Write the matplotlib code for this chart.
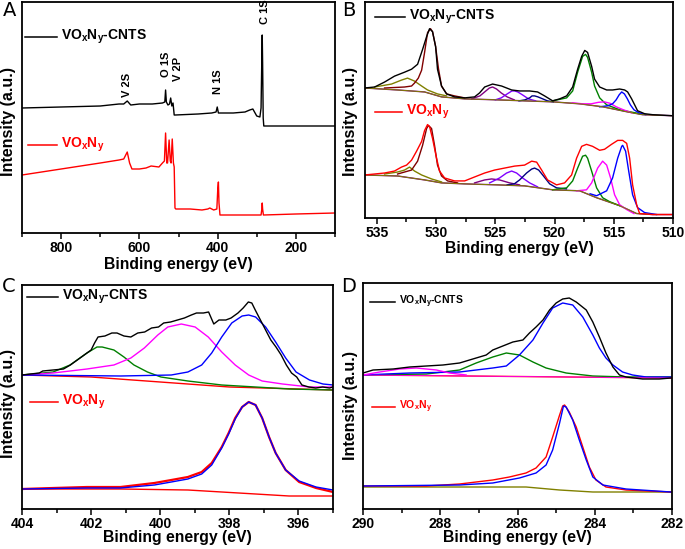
import matplotlib
matplotlib.use('Agg')
import matplotlib.pyplot as plt
from matplotlib.lines import Line2D
from matplotlib.ticker import MultipleLocator

plt.rcParams['font.family'] = 'Liberation Sans'
plt.rcParams['font.weight'] = 'bold'
plt.rcParams['mathtext.fontset'] = 'custom'
plt.rcParams['mathtext.rm'] = 'Liberation Sans:bold'
plt.rcParams['mathtext.it'] = 'Liberation Sans:bold'
plt.rcParams['mathtext.bf'] = 'Liberation Sans:bold'

# ---------------- data ----------------
# A: survey spectra
a_cnt_e = [900, 800, 700, 652, 640, 631, 622, 600, 567, 541, 535, 533, 531, 527, 523, 520, 517, 514, 511, 508,
           450, 415, 404, 401, 398, 394, 360, 330, 318, 310, 300, 292, 289, 287, 286, 285, 283.5, 282, 278, 200, 100]
a_cnt_y = [125, 126, 127, 129, 129, 132, 128, 129, 129, 130, 131, 143, 131, 128, 129, 135, 127, 130, 118, 118,
           119, 120, 121, 126, 120, 120, 120, 121, 123, 124, 117, 116, 125, 175, 198, 170, 115, 107, 107, 107, 107]
a_vo_e = [900, 800, 700, 652, 640, 631, 625, 619, 600, 583, 570, 550, 541, 536, 533, 530, 528, 524, 521, 519,
          516, 513, 511, 509, 507, 470, 440, 425, 420, 410, 402, 399.5, 398, 396.5, 394, 350, 300, 289, 287,
          286, 285, 283, 200, 100]
a_vo_y = [58, 64, 70, 73, 74, 81, 70, 64, 64, 65, 67, 66, 70, 72, 100, 70, 70, 93, 72, 70,
          94, 70, 66, 25, 24, 24, 23, 24, 25, 23, 24, 45, 51, 30, 18, 18, 18, 18, 24,
          30, 24, 18, 19, 20]
a_peaks = ['V 2S', 'O 1S', 'V 2P', 'N 1S', 'C 1S']

# B: V 2p / O 1s region
b_cnt_e = [536.04, 535.19, 534.35, 533.51, 532.66, 532.07, 531.56, 531.14, 530.80, 530.55, 530.30, 530.04, 529.88,
           529.54, 529.11, 528.44, 527.59, 526.75, 526.33, 525.90, 525.23, 524.47, 523.62, 522.95, 522.10, 521.43,
           520.84, 520.16, 519.57, 518.98, 518.47, 518.05, 517.71, 517.45, 517.21, 516.87, 516.62, 516.19, 515.60,
           515.10, 514.51, 514.08, 513.83, 513.49, 513.24, 512.99, 512.40, 511.72, 510.12]
b_cnt_y = [131, 132, 137, 143, 147, 150, 155, 170, 183, 191, 188, 173, 150,
           133, 125, 122, 121, 122, 126, 132, 135, 133, 129, 128, 128, 127,
           123, 118, 120, 123, 132, 150, 163, 169, 167, 153, 140, 132, 129,
           129, 130, 129, 127, 120, 114, 108, 105, 104, 103]
b_cnt_bg_e = [536.04, 533.25, 530.97, 529.54, 527.59, 524.81, 522.53, 520.16, 517.88, 515.94, 513.91, 512.57, 510.12]
b_cnt_bg_y = [131, 129, 127, 122, 120, 119, 118, 117, 115, 112, 107, 104, 103]
b_cnt_o1_e = [534.35, 532.66, 532.07, 531.82, 531.5, 531.22, 530.97, 530.72, 530.47, 530.30, 530.04, 529.79,
              529.54, 529.11, 528.44, 527.59]
b_cnt_o1_y = [131, 132, 133, 136, 141, 149, 167, 187, 191, 188, 173, 150, 133, 125, 123, 121]
b_cnt_o2_e = [535.19, 533.76, 532.92, 532.41, 531.82, 531.22, 530.72, 529.88, 529.11]
b_cnt_o2_y = [132, 135, 139, 141, 138, 133, 129, 125, 123]
b_cnt_p1_e = [527.0, 526.3, 525.9, 525.5, 525.23, 524.9, 524.5, 524.0, 523.4]
b_cnt_p1_y = [120, 123, 127, 131, 132, 130, 126, 122, 119]
b_cnt_p2_e = [525.0, 524.5, 524.0, 523.6, 523.37, 523.1, 522.7, 522.2, 521.6]
b_cnt_p2_y = [119, 121, 125, 128, 128, 127, 124, 120, 118]
b_cnt_p3_e = [523.0, 522.5, 522.1, 521.9, 521.68, 521.4, 521.0, 520.6, 520.1]
b_cnt_p3_y = [118, 119, 121, 123, 123, 122, 120, 118, 117]
b_cnt_g_e = [520.16, 518.98, 518.47, 518.05, 517.63, 517.38, 517.21, 516.87, 516.62, 516.19, 515.60, 514.51, 512.82]
b_cnt_g_y = [118, 121, 128, 147, 163, 165, 162, 147, 133, 121, 114, 109, 105]
b_cnt_m_e = [518.5, 517.6, 516.9, 516.3, 515.8, 515.3, 514.8, 514.2, 513.5]
b_cnt_m_y = [116, 115, 115, 116.5, 117, 115.5, 112, 109, 106]
b_cnt_b_e = [516.2, 515.5, 515.1, 514.8, 514.55, 514.33, 514.1, 513.85, 513.6, 513.3, 512.9, 512.3]
b_cnt_b_y = [112, 113, 115, 119, 124, 127, 125, 120, 114, 109, 106, 104]

b_vo_e = [536.04, 535.19, 534.35, 533.51, 532.92, 532.49, 532.07, 531.65, 531.22, 530.97, 530.72, 530.55, 530.30,
          529.96, 529.71, 529.28, 528.44, 527.59, 526.75, 525.90, 525.06, 524.22, 523.37, 522.53, 521.93, 521.51,
          521.09, 520.59, 519.83, 519.15, 518.56, 518.14, 517.71, 517.30, 516.79, 516.19, 515.78, 515.19, 514.67,
          514.25, 513.91, 513.66, 513.41, 513.07, 512.82, 511.72, 510.12]
b_vo_y = [43, 44, 45, 47, 51, 53, 58, 67, 77, 88, 94, 92, 80,
          60, 47, 40, 37, 37, 41, 45, 48, 50, 52, 53, 57, 56,
          48, 38, 33, 35, 43, 60, 72, 74, 72, 68, 69, 74, 78,
          78, 75, 60, 33, 13, 4, 3, 3]
b_vo_bg_e = [536.04, 533.25, 530.97, 529.54, 527.59, 524.81, 522.53, 520.16, 517.88, 516.45, 514.51, 513.07, 511.72,
             510.12]
b_vo_bg_y = [43, 42, 38, 35, 34, 33, 32, 28, 27, 20, 12, 4, 3, 3]
b_vo_o1_e = [533.25, 532.07, 531.56, 531.14, 530.80, 530.64, 530.38, 530.13, 529.88, 529.54, 529.03, 528.19]
b_vo_o1_y = [44, 48, 57, 73, 90, 93, 90, 73, 53, 42, 37, 35]
b_vo_o2_e = [534.35, 533.25, 532.66, 532.24, 531.82, 531.22, 530.38, 529.54]
b_vo_o2_y = [44, 46, 48, 51, 47, 43, 39, 36]
b_vo_p1_e = [526.75, 525.90, 525.31, 524.64, 523.79, 522.95]
b_vo_p1_y = [35, 38, 39, 38, 35, 33]
b_vo_p2_e = [525.48, 524.64, 524.05, 523.62, 523.20, 522.70, 522.10, 521.43]
b_vo_p2_y = [35, 40, 45, 47, 45, 40, 35, 31]
b_vo_p3_e = [524.0, 523.4, 522.95, 522.36, 521.93, 521.68, 521.34, 521.00, 520.41, 519.83, 519.0]
b_vo_p3_y = [33, 34, 38, 45, 49, 50, 48, 43, 34, 30, 29]
b_vo_g_e = [520.16, 518.98, 518.47, 518.05, 517.63, 517.38, 517.21, 516.87, 516.45, 515.94, 515.35, 514.51]
b_vo_g_y = [28, 30, 37, 50, 62, 63, 60, 47, 30, 20, 16, 12]
b_vo_m_e = [518.14, 517.30, 516.87, 516.36, 515.94, 515.60, 515.27, 514.93, 514.51, 513.91, 513.3]
b_vo_m_y = [27, 28, 35, 50, 57, 53, 40, 23, 13, 8, 4]
b_vo_b_e = [517.0, 516.45, 515.60, 515.10, 514.67, 514.33, 514.25, 514.00, 513.74, 513.41, 512.99, 512.40, 511.39]
b_vo_b_y = [24, 22, 27, 40, 60, 72, 73, 67, 47, 23, 10, 5, 3]

# C: N 1s region
c_cnt_e = [404.0, 403.5, 403.4, 403.1, 402.8, 402.6, 402.4, 402.2, 402.0, 401.9, 401.8, 401.6, 401.4, 401.25,
           401.05, 400.85, 400.65, 400.45, 400.25, 400.05, 399.9, 399.7, 399.5, 399.3, 399.1, 398.95, 398.75,
           398.6, 398.45, 398.3, 398.1, 397.95, 397.75, 397.6, 397.45, 397.35, 397.25, 397.1, 396.95, 396.8,
           396.65, 396.5, 396.35, 396.2, 396.05, 395.9, 395.7, 395.5, 395.3, 395.1, 395.0]
c_cnt_y = [134, 136, 138, 139, 140, 144, 149, 154, 159, 166, 172, 173, 176, 176,
           173, 172, 176, 177, 181, 182, 186, 187, 189, 191, 194, 196, 196,
           197, 185, 189, 189, 191, 196, 201, 207, 206, 199, 189, 179, 169,
           162, 154, 144, 136, 132, 124, 122, 121, 122, 121, 122]
c_cnt_bg_e = [404, 402, 400, 398, 396, 395]
c_cnt_bg_y = [134, 132, 127, 122, 120, 119]
c_cnt_g_e = [404.0, 403.1, 402.61, 402.12, 401.83, 401.68, 401.34, 401.05, 400.76, 400.37, 399.98, 399.2, 398.22,
             397.24, 396.27, 395.0]
c_cnt_g_y = [134, 137, 144, 156, 162, 162, 159, 152, 144, 137, 132, 128, 124, 122, 120, 119]
c_cnt_m_e = [404.0, 403.1, 402.12, 401.34, 400.85, 400.46, 400.07, 399.78, 399.39, 398.99, 398.61, 398.22, 397.83,
             397.44, 397.05, 396.46, 395.68, 395.0]
c_cnt_m_y = [134, 136, 140, 144, 151, 161, 174, 182, 185, 182, 172, 157, 144, 134, 128, 125, 122, 122]
c_cnt_b_e = [404.0, 401.15, 399.68, 399.2, 398.8, 398.51, 398.22, 397.93, 397.63, 397.44, 397.24, 396.95, 396.66,
             396.37, 396.07, 395.68, 395.29, 395.0]
c_cnt_b_y = [134, 133, 134, 137, 144, 156, 172, 186, 193, 194, 192, 182, 167, 151, 137, 129, 125, 124]

c_vo_e = [404.0, 403.1, 402.12, 401.15, 400.17, 399.68, 399.2, 398.8, 398.51, 398.22, 398.02, 397.83, 397.63,
          397.44, 397.24, 397.05, 396.85, 396.66, 396.37, 395.98, 395.49, 395.0]
c_vo_y = [20, 21, 22, 22, 26, 29, 32, 37, 46, 62, 76, 91, 102, 107, 104, 91, 72, 56, 39, 27, 21, 17]
c_vo_fit_y = [20, 20.5, 21, 21, 24, 27, 30, 35, 44, 61, 75, 90, 102, 107, 104, 91, 72, 56, 39, 28, 22, 19]
c_vo_bg_e = [404, 401.15, 399.2, 398.22, 397.24, 396.27, 395.0]
c_vo_bg_y = [20, 20, 19, 17, 15, 13, 13]

# D: C 1s region
d_cnt_e = [290.0, 289.74, 289.22, 288.79, 288.36, 287.93, 287.5, 287.07, 286.81, 286.64, 286.38, 286.12, 285.86,
           285.69, 285.52, 285.34, 285.17, 285.0, 284.83, 284.66, 284.48, 284.22, 284.05, 283.88, 283.71, 283.53,
           283.36, 283.19, 282.76, 282.33, 282.03]
d_cnt_y = [136, 139, 140, 142, 143, 144, 146, 151, 154, 159, 163, 167, 169,
           176, 182, 189, 199, 206, 210, 211, 207, 199, 187, 172, 156, 142,
           134, 132, 130, 130, 131]
d_cnt_bg_e = [290.0, 282.0]
d_cnt_bg_y = [134, 131]
d_cnt_g_e = [290.0, 288.36, 287.5, 287.07, 286.64, 286.29, 285.95, 285.6, 285.26, 284.74, 284.05, 283.19, 282.03]
d_cnt_g_y = [134, 135, 139, 146, 152, 156, 154, 147, 141, 136, 133, 132, 132]
d_cnt_m_e = [290.0, 289.57, 289.05, 288.62, 288.1, 287.76, 287.33]
d_cnt_m_y = [134, 137, 140, 141, 139, 136, 134]
d_cnt_b_e = [290.0, 288.79, 287.5, 286.64, 286.29, 285.95, 285.6, 285.34, 285.09, 284.83, 284.57, 284.31, 284.05,
             283.88, 283.71, 283.53, 283.28, 283.02, 282.67, 282.03]
d_cnt_b_y = [134, 136, 137, 141, 143, 154, 169, 186, 201, 206, 204, 192, 174, 161, 151, 144, 137, 134, 132, 132]

d_vo_e = [290.0, 288.36, 287.5, 286.64, 286.21, 285.78, 285.52, 285.26, 285.09, 284.91, 284.83, 284.78, 284.66,
          284.48, 284.31, 284.14, 283.97, 283.71, 283.19, 282.03]
d_vo_y = [23, 23, 25, 29, 32, 36, 41, 52, 72, 94, 103, 104, 97, 82, 62, 42, 29, 22, 19, 17]
d_vo_fit_e = [290.0, 287.5, 286.64, 285.95, 285.52, 285.26, 285.09, 284.91, 284.81, 284.74, 284.57, 284.40, 284.22,
              284.05, 283.79, 283.19, 282.03]
d_vo_fit_y = [23, 24, 26, 31, 36, 44, 59, 86, 103, 102, 89, 69, 49, 32, 24, 20, 17]
d_vo_bg_e = [290.0, 287.5, 285.78, 284.91, 284.05, 282.03]
d_vo_bg_y = [22, 22, 22, 19, 17, 17]

# ---------------- colours ----------------
BLACK = '#000000'
RED = '#ff0000'
WINE = '#800000'
OLIVE = '#808000'
PURPLE = '#800080'
VIOLET = '#8000ff'
NAVY = '#000080'
GREEN = '#008000'
MAGENTA = '#ff00ff'
BLUE = '#0000ff'

W, H = 685, 549
fig = plt.figure(figsize=(W / 100, H / 100), dpi=100)


def box(l, t, r, b):
    return [l / W, 1 - b / H, (r - l) / W, (b - t) / H]


def style(ax, xlim, ylim, major, minor, pad=1):
    ax.set_xlim(*xlim)
    ax.set_ylim(*ylim)
    ax.set_yticks([])
    ax.xaxis.set_major_locator(MultipleLocator(major))
    ax.xaxis.set_minor_locator(MultipleLocator(minor))
    ax.tick_params(axis='x', which='major', direction='out', length=4, width=1.1, labelsize=10, pad=2)
    ax.tick_params(axis='x', which='minor', direction='out', length=3, width=1.1)
    for s in ax.spines.values():
        s.set_linewidth(1.3)
    ax.set_xlabel('Binding energy (eV)', fontsize=11.3, fontweight='bold', labelpad=pad)


def legend_entry(x0, x1, y, text, color, size=10):
    fig.add_artist(Line2D([x0 / W, x1 / W], [1 - y / H, 1 - y / H], color=color, lw=1.1))
    fig.text((x1 + 4) / W, 1 - y / H, text, color=color, fontsize=size, fontweight='bold', va='center', ha='left')


def side_text(x, y, text, size=11.5):
    fig.text(x / W, 1 - y / H, text, rotation=90, fontsize=size, fontweight='bold', va='center', ha='center')


def letter(x, y, text):
    fig.text(x / W, 1 - y / H, text, fontsize=14, fontweight='normal', family='DejaVu Sans',
             va='center', ha='center')


CNT = r'VO$_x$N$_y$-CNTS'
VO = r'VO$_x$N$_y$'

# ---- A ----
axA = fig.add_axes(box(22, 1.5, 335, 233))
axA.plot(a_cnt_e, a_cnt_y, color=BLACK, lw=1.0)
axA.plot(a_vo_e, a_vo_y, color=RED, lw=1.0)
style(axA, (900, 100), (0, 231.5), 200, 100)
for txt, x, yb in zip(a_peaks, [127, 166, 178, 218, 265], [97, 77, 81, 94, 24]):
    fig.text(x / W, 1 - yb / H, txt, rotation=90, fontsize=8, fontweight='bold', va='bottom', ha='center')
legend_entry(25, 57, 37, CNT, BLACK)
legend_entry(28, 57, 145, VO, RED)

# ---- B ----
axB = fig.add_axes(box(365, 1.5, 673, 217.5))
for e, y, c in [(b_cnt_bg_e, b_cnt_bg_y, PURPLE), (b_cnt_o2_e, b_cnt_o2_y, OLIVE), (b_cnt_o1_e, b_cnt_o1_y, WINE),
                (b_cnt_p1_e, b_cnt_p1_y, PURPLE), (b_cnt_p2_e, b_cnt_p2_y, VIOLET), (b_cnt_p3_e, b_cnt_p3_y, NAVY),
                (b_cnt_g_e, b_cnt_g_y, GREEN), (b_cnt_m_e, b_cnt_m_y, MAGENTA), (b_cnt_b_e, b_cnt_b_y, BLUE),
                (b_vo_bg_e, b_vo_bg_y, PURPLE), (b_vo_o2_e, b_vo_o2_y, OLIVE), (b_vo_o1_e, b_vo_o1_y, WINE),
                (b_vo_p1_e, b_vo_p1_y, PURPLE), (b_vo_p2_e, b_vo_p2_y, VIOLET), (b_vo_p3_e, b_vo_p3_y, NAVY),
                (b_vo_g_e, b_vo_g_y, GREEN), (b_vo_m_e, b_vo_m_y, MAGENTA), (b_vo_b_e, b_vo_b_y, BLUE)]:
    axB.plot(e, y, color=c, lw=1.0)
axB.plot(b_cnt_bg_e, b_cnt_bg_y, color=OLIVE, lw=0.7)
axB.plot(b_vo_bg_e, b_vo_bg_y, color=OLIVE, lw=0.7)
axB.plot(b_cnt_e, b_cnt_y, color=BLACK, lw=1.0)
axB.plot(b_vo_e, b_vo_y, color=RED, lw=1.0)
style(axB, (536, 510), (0, 218.5), 5, 2.5)
legend_entry(375, 405, 17, CNT, BLACK)
legend_entry(375, 402, 112, VO, RED)

# ---- C ----
axC = fig.add_axes(box(22, 285, 333, 509))
axC.plot(c_cnt_bg_e, c_cnt_bg_y, color=RED, lw=1.0)
axC.plot(c_cnt_g_e, c_cnt_g_y, color=GREEN, lw=1.0)
axC.plot(c_cnt_m_e, c_cnt_m_y, color=MAGENTA, lw=1.0)
axC.plot(c_cnt_b_e, c_cnt_b_y, color=BLUE, lw=1.0)
axC.plot(c_cnt_e, c_cnt_y, color=BLACK, lw=1.0)
axC.plot(c_vo_bg_e, c_vo_bg_y, color=RED, lw=1.0)
axC.plot(c_vo_e, c_vo_y, color=RED, lw=1.6)
axC.plot(c_vo_e, c_vo_fit_y, color=BLUE, lw=1.0)
style(axC, (404, 395), (0, 224), 2, 1, pad=-1)
legend_entry(27, 58, 297, CNT, BLACK)
legend_entry(30, 58, 402, VO, RED)

# ---- D ----
axD = fig.add_axes(box(363, 283, 672, 509))
axD.plot(d_cnt_bg_e, d_cnt_bg_y, color=RED, lw=1.0)
axD.plot(d_cnt_g_e, d_cnt_g_y, color=GREEN, lw=1.0)
axD.plot(d_cnt_b_e, d_cnt_b_y, color=BLUE, lw=1.0)
axD.plot(d_cnt_m_e, d_cnt_m_y, color=MAGENTA, lw=1.0)
axD.plot(d_cnt_bg_e, d_cnt_bg_y, color=MAGENTA, lw=0.6)
axD.plot(d_cnt_e, d_cnt_y, color=BLACK, lw=1.0)
axD.plot(d_vo_bg_e, d_vo_bg_y, color=OLIVE, lw=1.0)
axD.plot(d_vo_e, d_vo_y, color=RED, lw=1.0)
axD.plot(d_vo_fit_e, d_vo_fit_y, color=BLUE, lw=1.0)
style(axD, (290, 282), (0, 226), 2, 1, pad=-1)
legend_entry(370, 395, 302, CNT, BLACK, size=7.5)
legend_entry(372, 395, 407, VO, RED, size=7.5)

# y labels and panel letters
side_text(9, 122, 'Intensity (a.u.)')
side_text(351, 122, 'Intensity (a.u.)')
side_text(9, 403, 'Intensity (a.u.)')
side_text(351, 405, 'Intensity (a.u.)')
letter(10, 11, 'A')
letter(349, 10, 'B')
letter(9, 286, 'C')
letter(349, 286, 'D')

fig.savefig('out.png', dpi=100)
